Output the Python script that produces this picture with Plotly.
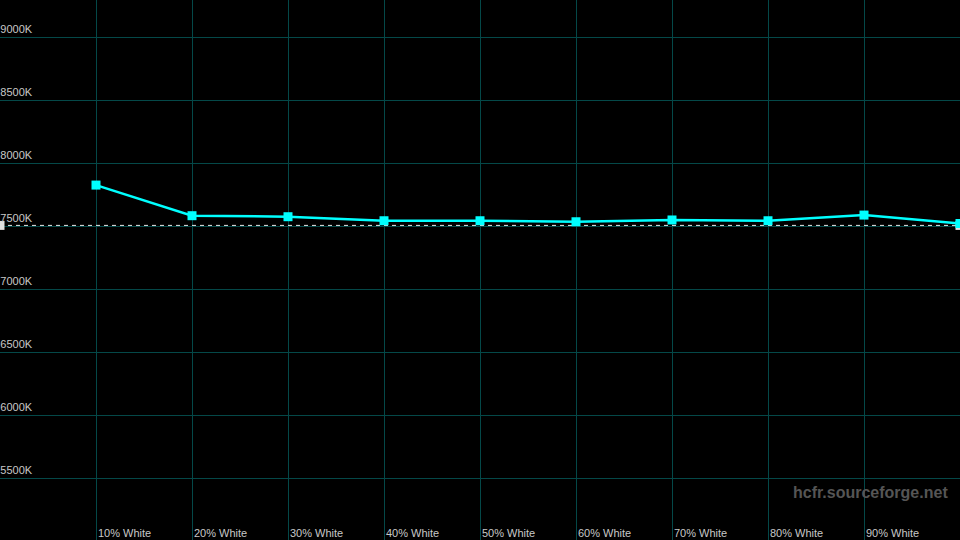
import plotly.graph_objects as go

# Data
levels = [10, 20, 30, 40, 50, 60, 70, 80, 90, 100]
color_temp = [7825, 7582, 7574, 7542, 7542, 7534, 7548, 7542, 7587, 7520]
ref_x = [0, 100]
ref_temp = [7505, 7505]
x_tickvals = [0, 10, 20, 30, 40, 50, 60, 70, 80, 90, 100]
x_ticktext = ["", "10% White", "20% White", "30% White", "40% White", "50% White",
              "60% White", "70% White", "80% White", "90% White", ""]
y_tickvals = [5500, 6000, 6500, 7000, 7500, 8000, 8500, 9000]
y_ticktext = ["5500K", "6000K", "6500K", "7000K", "7500K", "8000K", "8500K", "9000K"]

GRID = "#044848"
TXT = "#c8c8c8"

fig = go.Figure()
fig.add_trace(go.Scatter(
    x=ref_x, y=ref_temp, mode="lines+markers",
    line=dict(color="#e8e8e8", width=1, dash="4px,4px"),
    marker=dict(symbol="square", size=9, color="#e0e0e0"),
    hoverinfo="skip", showlegend=False))
fig.add_trace(go.Scatter(
    x=levels, y=color_temp, mode="lines+markers",
    line=dict(color="#00ffff", width=2.5),
    marker=dict(symbol="square", size=9, color="#00ffff"),
    showlegend=False))

fig.update_layout(
    width=960, height=540,
    margin=dict(l=0, r=0, t=0, b=0),
    paper_bgcolor="#000000", plot_bgcolor="#000000",
    font=dict(family="Liberation Sans, Arial, sans-serif", size=11, color=TXT),
    xaxis=dict(range=[0, 100], tickvals=x_tickvals, ticktext=x_ticktext,
               ticklabelposition="inside right", ticklabelstandoff=-5, ticklabelshift=2,
               showgrid=True, gridcolor=GRID,
               gridwidth=1, zeroline=False, showline=False, ticks="",
               tickfont=dict(size=11, color=TXT)),
    yaxis=dict(range=[5008, 9294], tickvals=y_tickvals, ticktext=y_ticktext,
               ticklabelposition="inside top", ticklabelstandoff=-1,
               showgrid=True, gridcolor=GRID,
               gridwidth=1, zeroline=False, showline=True, linecolor=GRID, ticks="",
               tickfont=dict(size=11, color=TXT)),
    annotations=[dict(text="<b>hcfr.sourceforge.net</b>", xref="paper", yref="paper",
                      x=0.99, y=0.088, xanchor="right", yanchor="middle",
                      showarrow=False,
                      font=dict(family="Liberation Sans, Arial", size=16, color="#555555"))],
)

fig.write_html("out.html", config={"displayModeBar": False},
               post_script="document.body.style.margin='0';document.body.style.background='#000';")
